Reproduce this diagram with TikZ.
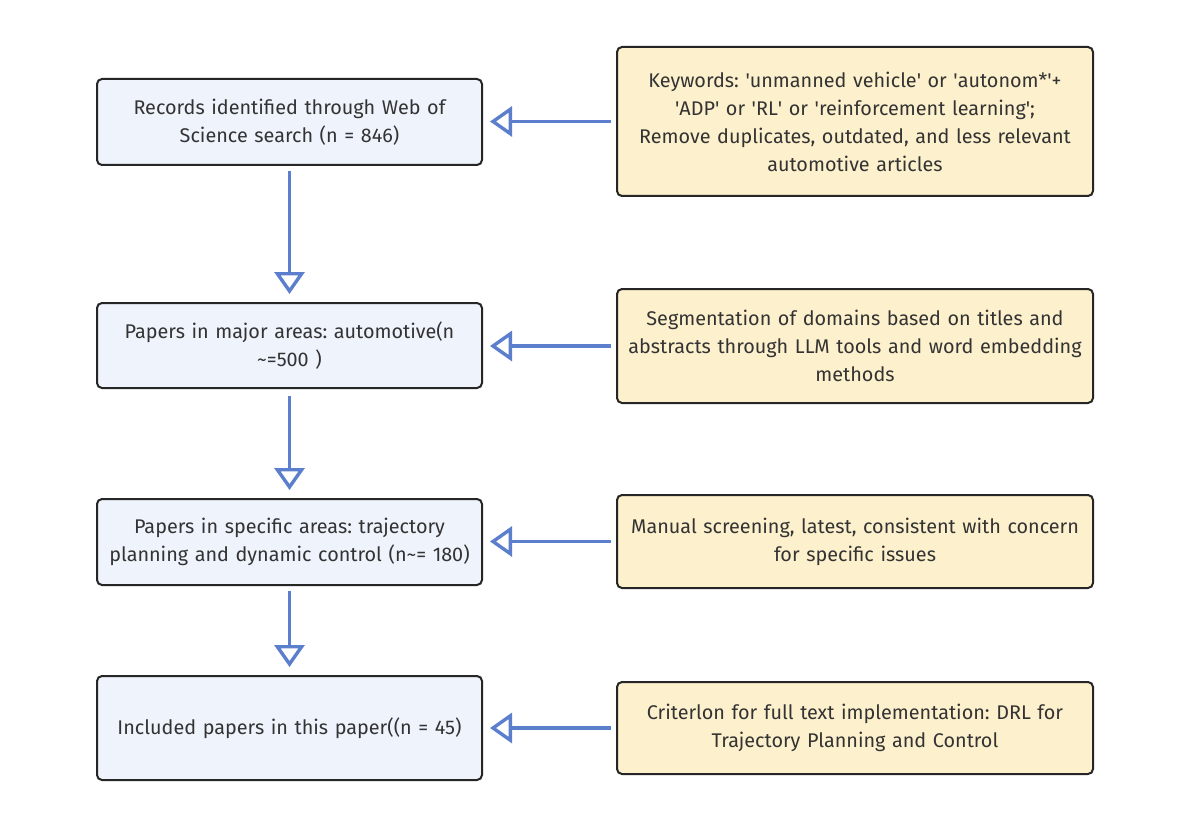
\documentclass[tikz,border=0pt]{standalone}
\usepackage{fontspec}
\setmainfont{Fira Sans}
\usetikzlibrary{arrows.meta}
\definecolor{leftfill}{HTML}{EEF3FC}
\definecolor{rightfill}{HTML}{FDF0CC}
\definecolor{arrowblue}{HTML}{5B7FCC}
\definecolor{txt}{HTML}{333333}
\newcommand{\sq}{\textquotesingle}
\begin{document}
\frenchspacing
\begin{tikzpicture}[x=1pt,y=-1pt,
  leftbox/.style={draw=black!85, line width=2pt, rounded corners=5pt, fill=leftfill, text=txt,
     minimum width=385pt, text width=370pt, align=center, inner sep=0pt,
     font=\fontsize{19.8}{28}\selectfont},
  rightbox/.style={draw=black!85, line width=2pt, rounded corners=5pt, fill=rightfill, text=txt,
     minimum width=476pt, text width=462pt, align=center, inner sep=0pt,
     font=\fontsize{19.8}{28}\selectfont},
  flow/.style={draw=arrowblue, line width=3.6pt, -{Triangle[open, length=22pt, width=30pt, line width=3.4pt]}}
]
\useasboundingbox (0,0) rectangle (1196,829);
\fill[white] (0,0) rectangle (1196,829);

\node[leftbox, minimum height=86pt] (l1) at (289.5,122) {Records identified through Web of\\Science search (n = 846)};
\node[leftbox, minimum height=85pt] (l2) at (289.5,345.5) {Papers in major areas: automotive(n\\\textasciitilde=500 )};
\node[leftbox, minimum height=86pt] (l3) at (289.5,542) {Papers in specific areas: trajectory\\planning and dynamic control (n\textasciitilde= 180)};
\node[leftbox, minimum height=104pt] (l4) at (289.5,728) {Included papers in this paper((n = 45)};

\node[rightbox, minimum height=149pt] (r1) at (855,121.5) {Keywords: \sq unmanned vehicle\sq{} or \sq autonom*\sq+\\\sq ADP\sq{} or \sq RL\sq{} or \sq reinforcement learning\sq;\\Remove duplicates, outdated, and less relevant\\automotive articles};
\node[rightbox, minimum height=114pt] (r2) at (855,346) {Segmentation of domains based on titles and\\abstracts through LLM tools and word embedding\\methods};
\node[rightbox, minimum height=93pt] (r3) at (855,541.5) {Manual screening, latest, consistent with concern\\for specific issues};
\node[rightbox, minimum height=92pt] (r4) at (855,728) {Criterlon for full text implementation: DRL for\\Trajectory Planning and Control};

\draw[flow] ([xshift=-5pt]r1.west) -- ([xshift=7pt]r1.west -| l1.east);
\draw[flow] ([xshift=-5pt]r2.west) -- ([xshift=7pt]r2.west -| l2.east);
\draw[flow] ([xshift=-5pt]r3.west) -- ([xshift=7pt]r3.west -| l3.east);
\draw[flow] ([xshift=-5pt]r4.west) -- ([xshift=7pt]r4.west -| l4.east);

\draw[flow] ([yshift=-5pt]l1.south) -- ([yshift=8pt]l2.north);
\draw[flow] ([yshift=-7pt]l2.south) -- ([yshift=8pt]l3.north);
\draw[flow] ([yshift=-5pt]l3.south) -- ([yshift=8pt]l4.north);
\end{tikzpicture}
\end{document}
